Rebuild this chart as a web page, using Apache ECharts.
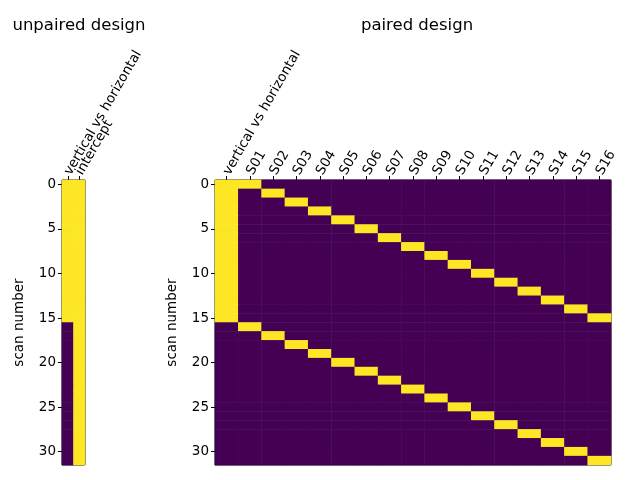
<!DOCTYPE html>
<html><head><meta charset="utf-8">
<script src="https://cdn.jsdelivr.net/npm/echarts@6/dist/echarts.min.js"></script>
<style>body{margin:0}#c{width:640px;height:480px}</style></head>
<body><div id="c"></div>
<script>
const unpairedCols = ['vertical vs horizontal', 'intercept'];
const subjects = ['S01','S02','S03','S04','S05','S06','S07','S08','S09','S10','S11','S12','S13','S14','S15','S16'];
const pairedCols = ['vertical vs horizontal'].concat(subjects);
const scans = [];
for (let i = 0; i < 32; i++) scans.push(i);

// design matrices: rows = scans, columns = regressors
const condition = [1,1,1,1,1,1,1,1,1,1,1,1,1,1,1,1,0,0,0,0,0,0,0,0,0,0,0,0,0,0,0,0];
const intercept = [1,1,1,1,1,1,1,1,1,1,1,1,1,1,1,1,1,1,1,1,1,1,1,1,1,1,1,1,1,1,1,1];
const subjectOfScan = [0,1,2,3,4,5,6,7,8,9,10,11,12,13,14,15,0,1,2,3,4,5,6,7,8,9,10,11,12,13,14,15];

const unpairedData = [];
const pairedData = [];
scans.forEach((s) => {
  unpairedData.push([0, s, condition[s]]);
  unpairedData.push([1, s, intercept[s]]);
  pairedData.push([0, s, condition[s]]);
  subjects.forEach((name, j) => {
    pairedData.push([j + 1, s, subjectOfScan[s] === j ? 1 : 0]);
  });
});

const font = 'DejaVu Sans';
const every5 = (i) => i % 5 === 0;
function xAxis(idx, data) {
  return {
    type: 'category', gridIndex: idx, position: 'top', data: data,
    axisLine: { show: false },
    axisTick: { show: true, alignWithLabel: true, length: 4, lineStyle: { color: '#000' } },
    axisLabel: { rotate: -60, interval: 0, color: '#000', fontFamily: font, fontSize: 13.5, margin: 6 },
    splitArea: { show: false }
  };
}
function yAxis(idx) {
  return {
    type: 'category', gridIndex: idx, inverse: true, data: scans,
    name: 'scan number', nameLocation: 'middle', nameGap: 36,
    nameTextStyle: { color: '#000', fontFamily: font, fontSize: 13.5 },
    axisLine: { show: false },
    axisTick: { show: true, alignWithLabel: true, length: 4, interval: every5, lineStyle: { color: '#000' } },
    axisLabel: { interval: every5, color: '#000', fontFamily: font, fontSize: 13.5, margin: 6 }
  };
}
const titleStyle = { fontFamily: font, fontSize: 16.5, fontWeight: 'normal', color: '#000' };

const chart = echarts.init(document.getElementById('c'));
chart.setOption({
  animation: false,
  title: [
    { text: 'unpaired design', left: 74, top: 12, textAlign: 'center', textStyle: titleStyle },
    { text: 'paired design', left: 412, top: 12, textAlign: 'center', textStyle: titleStyle }
  ],
  grid: [
    { left: 62, width: 23, top: 180, height: 285, show: true, borderColor: '#000', borderWidth: 1 },
    { left: 215, width: 396, top: 180, height: 285, show: true, borderColor: '#000', borderWidth: 1 }
  ],
  xAxis: [xAxis(0, unpairedCols), xAxis(1, pairedCols)],
  yAxis: [yAxis(0), yAxis(1)],
  visualMap: { show: false, min: 0, max: 1, seriesIndex: [0, 1], inRange: { color: ['#440154', '#fde725'] } },
  series: [
    { type: 'heatmap', xAxisIndex: 0, yAxisIndex: 0, data: unpairedData },
    { type: 'heatmap', xAxisIndex: 1, yAxisIndex: 1, data: pairedData }
  ]
});
</script></body></html>
